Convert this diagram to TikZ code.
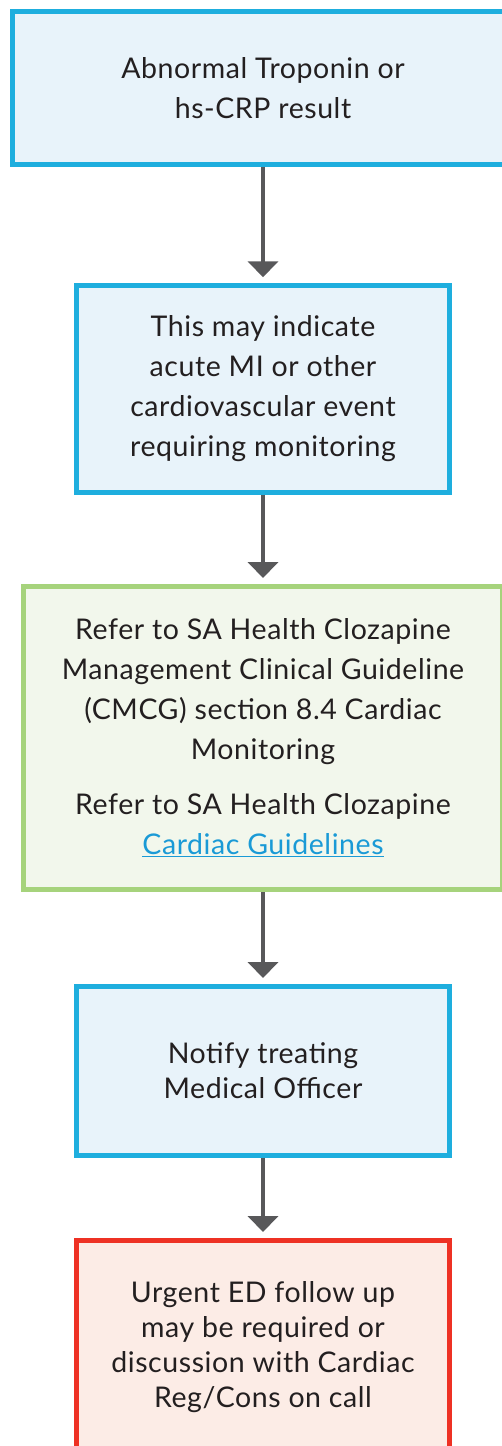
\documentclass[tikz,border=0pt]{standalone}
\usepackage{xcolor}
\usepackage{fontspec}
\setmainfont{Lato}[LetterSpace=2.0]
\usepackage{tikz}
\usetikzlibrary{shapes,arrows.meta,positioning,calc}

\definecolor{cyanline}{HTML}{1EAEDE}
\definecolor{bluefill}{HTML}{E8F3FA}
\definecolor{greenline}{HTML}{A6D37C}
\definecolor{greenfill}{HTML}{F2F7EC}
\definecolor{redline}{HTML}{EE3124}
\definecolor{redfill}{HTML}{FCECE6}
\definecolor{arrowgray}{HTML}{58585A}
\definecolor{linkblue}{HTML}{1A9AD6}
\definecolor{textdark}{HTML}{231F20}

\newcommand{\flowfont}{\fontsize{28.5}{40}\selectfont}
\newcommand{\flowfonttight}{\fontsize{28.5}{35}\selectfont}

\begin{document}
\begin{tikzpicture}[x=1pt,y=-1pt,
    box/.style={rectangle, line width=5pt, align=center, text=textdark, font=\flowfont},
    bluebox/.style={box, draw=cyanline, fill=bluefill},
    greenbox/.style={box, draw=greenline, fill=greenfill},
    redbox/.style={box, draw=redline, fill=redfill},
    flow/.style={arrowgray, line width=4.5pt, -{Triangle[width=30pt,length=16pt]}, shorten >=6pt}]
    \useasboundingbox (0,0) rectangle (502,1446);

    % Boxes
    \node[bluebox, minimum width=501pt, minimum height=152.5pt] (troponin) at (263,88)
        {Abnormal Troponin or\\hs-CRP result};
    \node[bluebox, minimum width=373pt, minimum height=206.5pt] (indicate) at (263,389)
        {This may indicate\\acute MI or other\\cardiovascular event\\requiring monitoring};
    \node[greenbox, minimum width=479pt, minimum height=303pt] (guideline) at (263,738)
        {Refer to SA Health Clozapine\\Management Clinical Guideline\\(CMCG) section 8.4 Cardiac\\Monitoring\\[15pt]
         Refer to SA Health Clozapine\\\textcolor{linkblue}{\underline{Cardiac Guidelines}}};
    \node[bluebox, minimum width=373pt, minimum height=169pt, font=\flowfonttight] (notify) at (263,1071)
        {Notify treating\\Medical Officer};
    \node[redbox, minimum width=373pt, minimum height=213pt, font=\flowfonttight] (urgent) at (263,1347)
        {Urgent ED follow up\\may be required or\\discussion with Cardiac\\Reg/Cons on call};

    % Arrows
    \draw[flow] (troponin.south) -- (indicate.north);
    \draw[flow] (indicate.south) -- (guideline.north);
    \draw[flow] (guideline.south) -- (notify.north);
    \draw[flow] (notify.south) -- (urgent.north);
\end{tikzpicture}
\end{document}
